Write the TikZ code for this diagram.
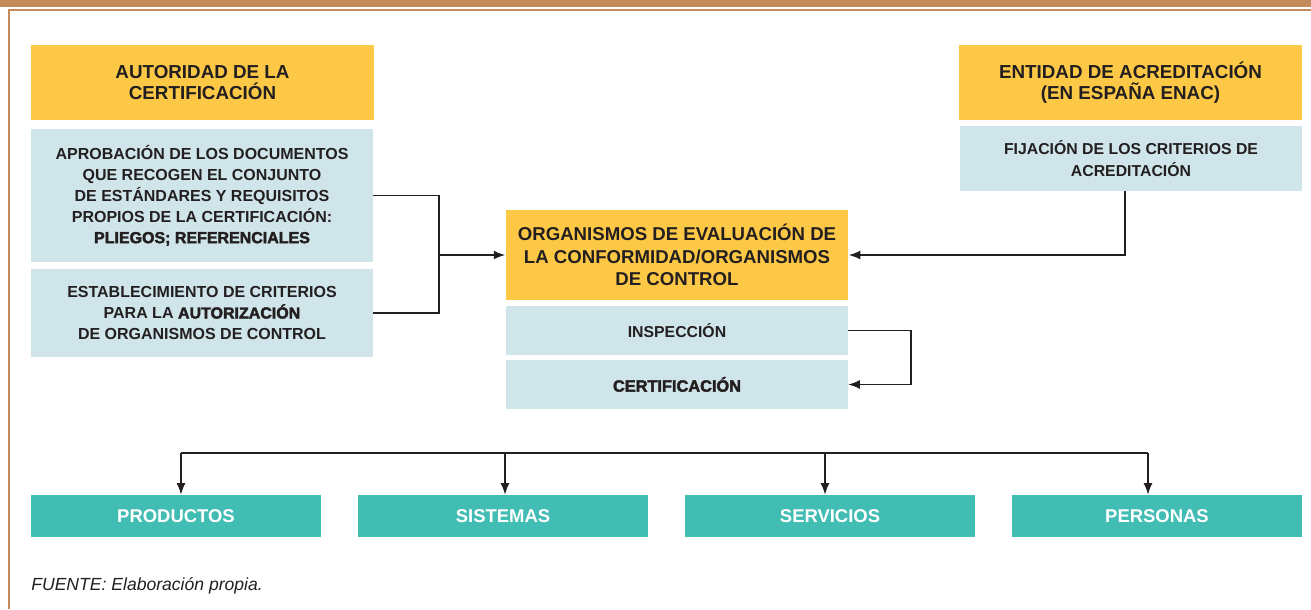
\documentclass[tikz,border=0pt]{standalone}
\usepackage{fontspec}
\setmainfont{Liberation Sans}
\newfontfamily\heavyfont{Liberation Sans Bold}[FakeBold=2.5]
\newcommand{\heavy}[1]{{\heavyfont #1}}
\usetikzlibrary{arrows.meta, positioning, calc}

\definecolor{ink}{HTML}{231F20}
\definecolor{frame}{HTML}{C48B5A}
\definecolor{hdrcol}{HTML}{FDC846}
\definecolor{txtcol}{HTML}{CFE5EA}
\definecolor{outcol}{HTML}{42BDB3}

\tikzset{
  hdr/.style={fill=hdrcol, text=ink, inner sep=0pt, align=center,
    minimum width=6.86cm, minimum height=1.5cm, font=\bfseries\fontsize{10.7}{11.7}\selectfont},
  txtbox/.style={fill=txtcol, text=ink, inner sep=0pt, align=center,
    minimum width=6.84cm, font=\bfseries\fontsize{9.1}{11.9}\selectfont},
  outbox/.style={fill=outcol, text=white, inner sep=0pt, align=center,
    minimum width=5.8cm, minimum height=0.84cm, font=\bfseries\fontsize{10.5}{12}\selectfont},
  conn/.style={draw=ink, line width=0.75pt}
}

\begin{document}
\begin{tikzpicture}[x=0.02cm, y=-0.02cm, >={Latex[length=6.5pt,width=5pt]}]
    \useasboundingbox (0,0) rectangle (1311,609);

    % frame
    \fill[frame] (0,0) rectangle (1311,7);
    \draw[frame, line width=1.2pt] (9,609) -- (9,10) -- (1311,10);

    \coordinate (c01) at (202.5, 82.5);
    \coordinate (c02) at (202  ,195.5);
    \coordinate (c03) at (202  ,313);
    \coordinate (c04) at (677  ,255);
    \coordinate (c05) at (677  ,330.5);
    \coordinate (c06) at (677  ,384.5);
    \coordinate (c07) at (1130.5,82.5);
    \coordinate (c08) at (1131 ,158.5);
    \coordinate (c09) at (176  ,516);
    \coordinate (c10) at (503  ,516);
    \coordinate (c11) at (830  ,516);
    \coordinate (c12) at (1157 ,516);

    \coordinate (lj) at (439,255);
    \coordinate (rj) at (1125,255);
    \coordinate (ic) at (911,0);
    \coordinate (b1) at (181,453);
    \coordinate (b2) at (505,453);
    \coordinate (b3) at (825,453);
    \coordinate (b4) at (1148,453);

    % left column
    \node[hdr] (auth) at (c01) {AUTORIDAD DE LA\\CERTIFICACIÓN};
    \node[txtbox, minimum height=2.66cm] (aprob) at (c02) {APROBACIÓN DE LOS DOCUMENTOS\\QUE RECOGEN EL CONJUNTO\\DE ESTÁNDARES Y REQUISITOS\\PROPIOS DE LA CERTIFICACIÓN:\\\heavy{PLIEGOS; REFERENCIALES}};
    \node[txtbox, minimum height=1.76cm] (estab) at (c03) {ESTABLECIMIENTO DE CRITERIOS\\PARA LA \heavy{AUTORIZACIÓN}\\DE ORGANISMOS DE CONTROL};

    % middle column
    \node[hdr, minimum height=1.8cm, font=\bfseries\fontsize{10.6}{12.7}\selectfont] (org) at (c04) {ORGANISMOS DE EVALUACIÓN DE\\LA CONFORMIDAD/ORGANISMOS\\DE CONTROL};
    \node[txtbox, minimum height=0.98cm, font=\bfseries\fontsize{9}{11}\selectfont] (insp) at (c05) {INSPECCIÓN};
    \node[txtbox, minimum height=0.98cm, font=\fontsize{9.3}{11}\selectfont] (cert) at (c06) {\heavy{CERTIFICACIÓN}};

    % right column
    \node[hdr] (ent) at (c07) {ENTIDAD DE ACREDITACIÓN\\(EN ESPAÑA ENAC)};
    \node[txtbox, minimum height=1.3cm, font=\bfseries\fontsize{9}{12.6}\selectfont] (fij) at (c08) {FIJACIÓN DE LOS CRITERIOS DE\\ACREDITACIÓN};

    % bottom row
    \node[outbox] (prod) at (c09) {PRODUCTOS};
    \node[outbox] (sist) at (c10) {SISTEMAS};
    \node[outbox] (serv) at (c11) {SERVICIOS};
    \node[outbox] (pers) at (c12) {PERSONAS};

    \node[anchor=west, inner sep=0pt, text=ink, font=\itshape\fontsize{10}{12}\selectfont] (src) at (31,586) {FUENTE: Elaboración propia.};

    % connectors
    \draw[conn] (aprob.east) -| (lj) |- (estab.east);
    \draw[conn, ->] (lj) -- (org.west);
    \draw[conn, ->] (fij.south -| rj) |- (org.east);
    \draw[conn, ->] (insp.east) -- (insp.east -| ic) |- (cert.east);

    \draw[conn] (b1) -- (b4);
    \draw[conn, ->] (b1) -- (prod.north -| b1);
    \draw[conn, ->] (b2) -- (sist.north -| b2);
    \draw[conn, ->] (b3) -- (serv.north -| b3);
    \draw[conn, ->] (b4) -- (pers.north -| b4);
  \end{tikzpicture}
\end{document}
